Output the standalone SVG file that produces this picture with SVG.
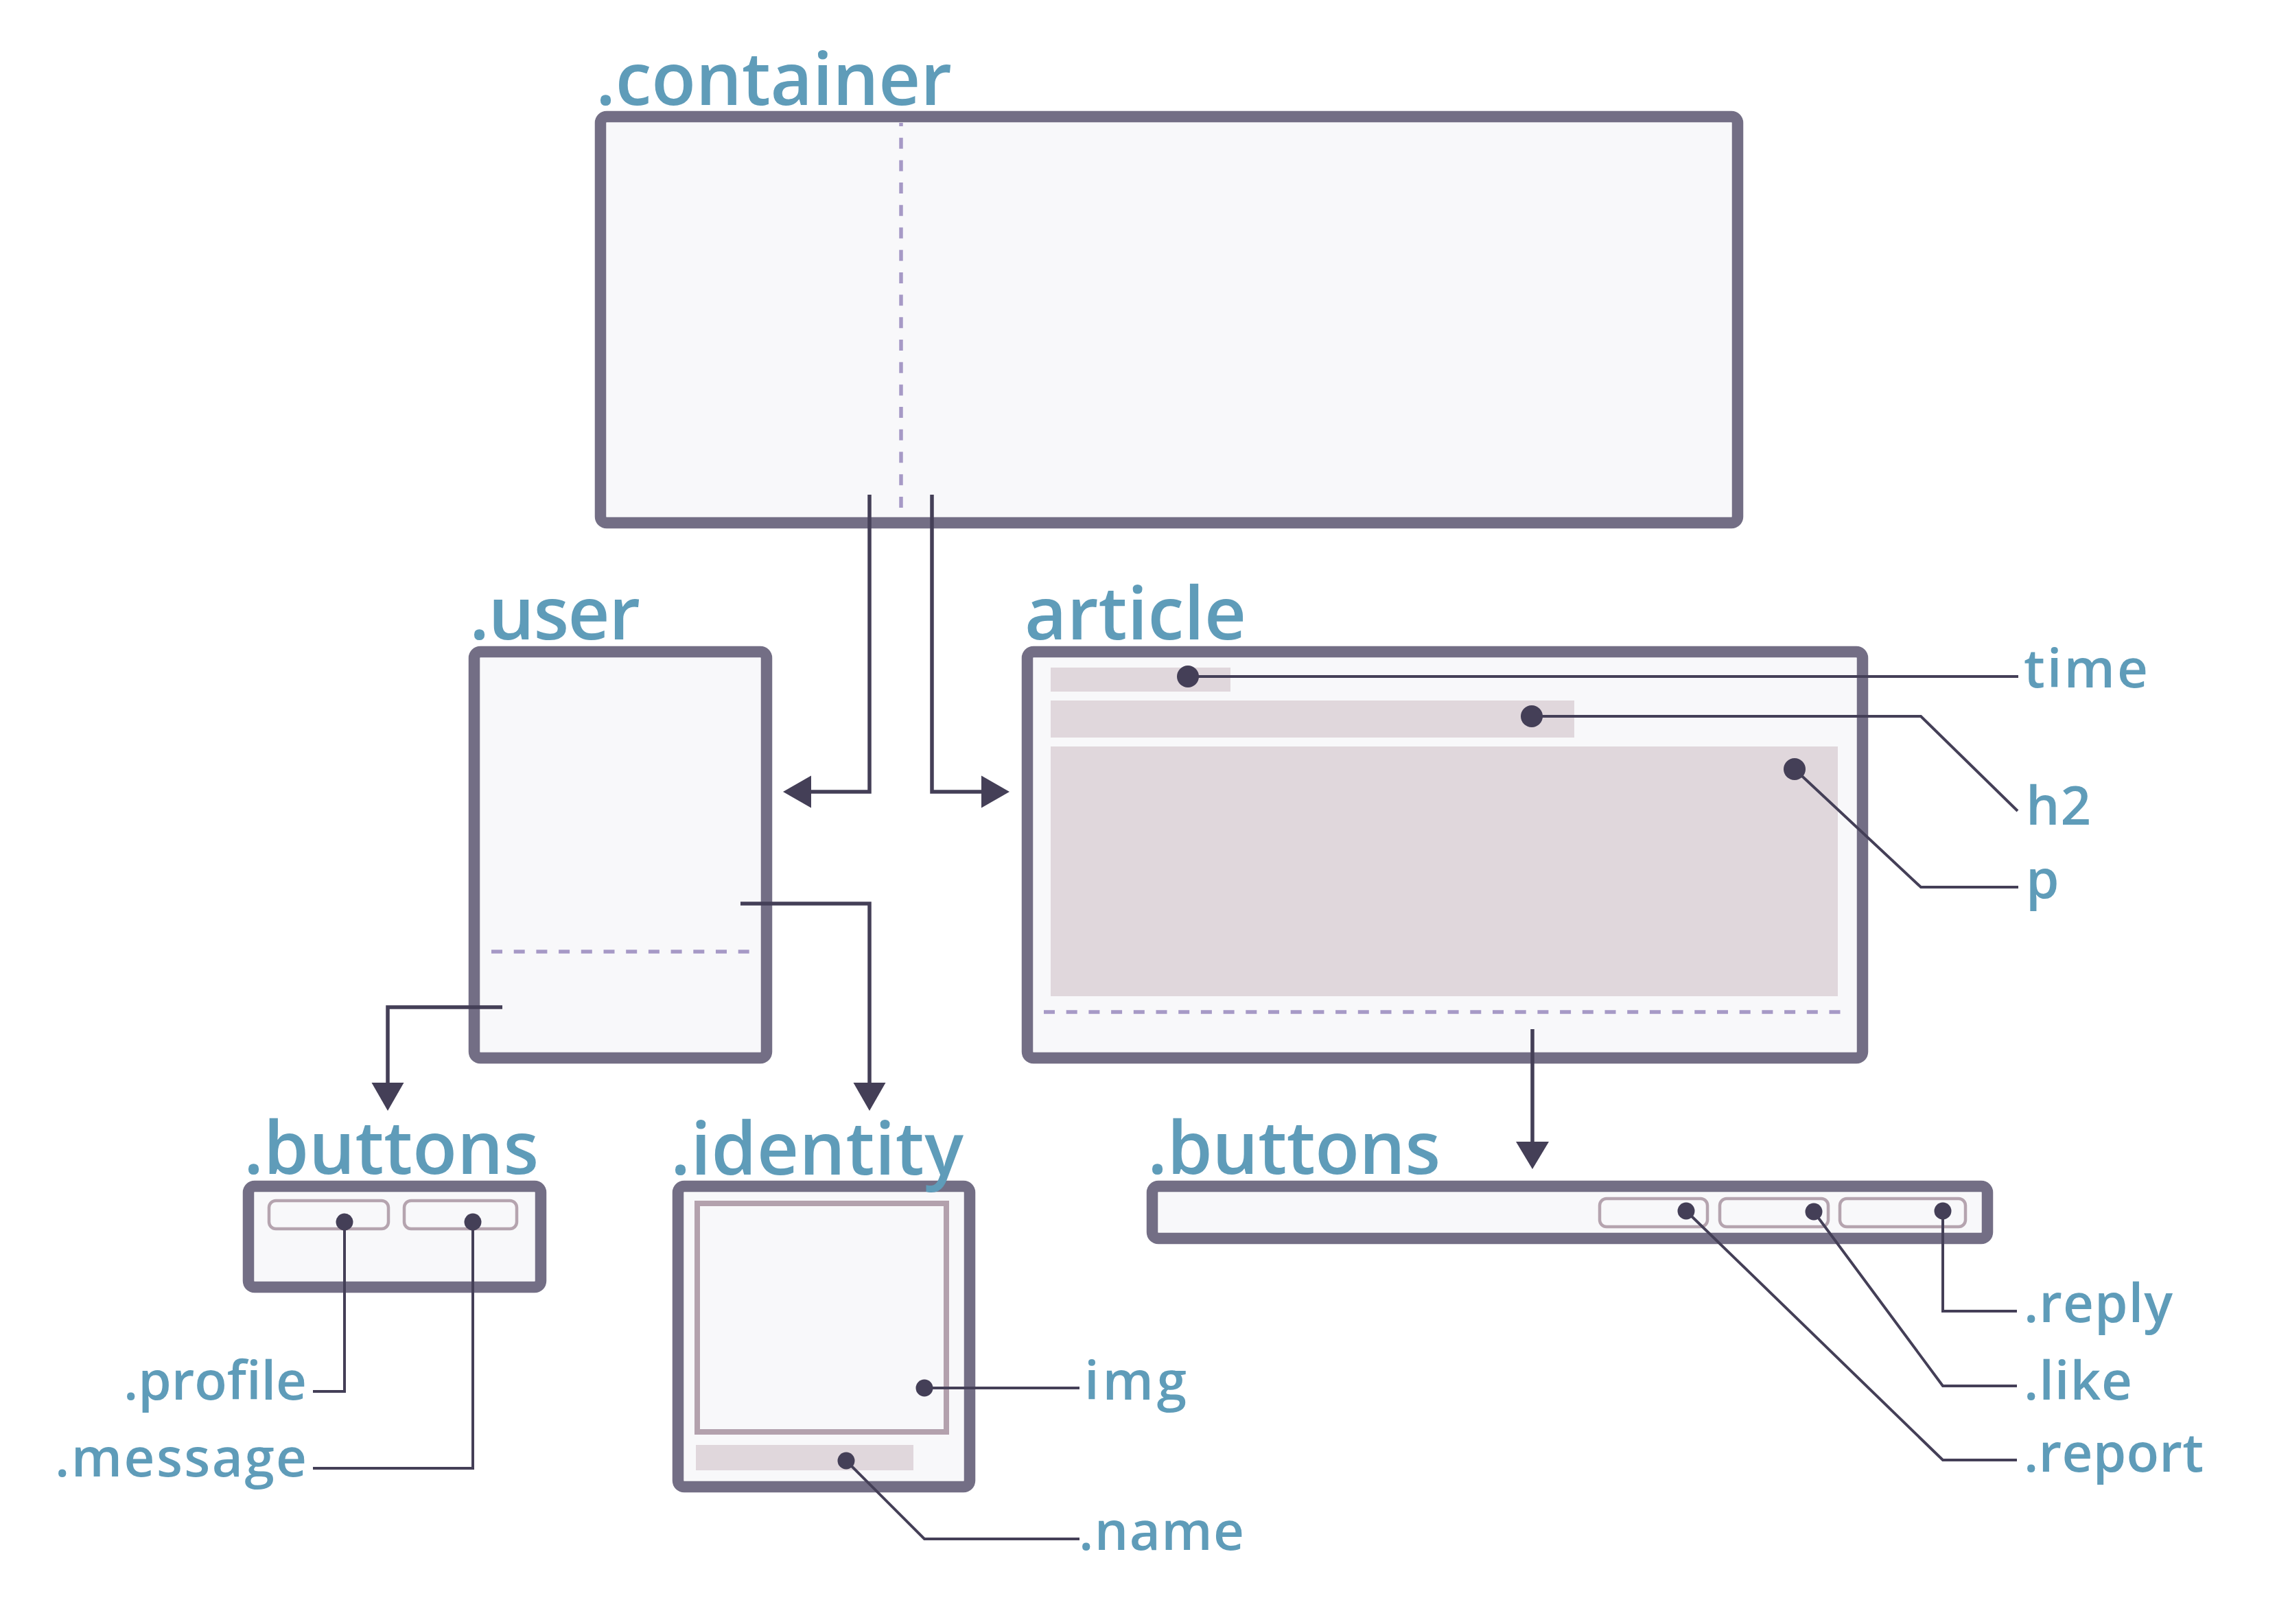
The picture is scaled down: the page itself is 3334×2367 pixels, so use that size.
<svg xmlns="http://www.w3.org/2000/svg" width="3334" height="2367" viewBox="0 0 3334 2367">
<style>
.box{fill:#f8f8fa;stroke:#736e85;stroke-width:16.5}
.bar{fill:#e0d7dc}
.btn{fill:#f8f8fa;stroke:#b5a4af;stroke-width:4.5}
.dash{fill:none;stroke:#a699c6;stroke-width:5.5;stroke-dasharray:16 16.7}
.conn{fill:none;stroke:#443f57;stroke-width:5.5}
.lead{fill:none;stroke:#443f57;stroke-width:4}
.dot{fill:#443f57}
.head{fill:#443f57}
.big{font-family:"Open Sans","Liberation Sans",sans-serif;font-size:106px;font-weight:600;fill:#5f9cb9}
.sm{font-family:"Open Sans","Liberation Sans",sans-serif;font-size:78px;font-weight:600;fill:#5f9cb9}
</style>
<rect width="3334" height="2367" fill="#ffffff"/>

<g id="container">
<rect class="box" x="875" y="170" width="1657" height="592" rx="9"/>
<line class="dash" x1="1313" y1="179" x2="1313" y2="741" stroke-dashoffset="11"/>
<text class="big" x="868" y="153" textLength="519" lengthAdjust="spacing">.container</text>
</g>

<g id="user">
<rect class="box" x="691" y="950" width="426" height="592" rx="9"/>
<line class="dash" x1="716" y1="1387" x2="1108" y2="1387"/>
<text class="big" x="684" y="932" textLength="249" lengthAdjust="spacing">.user</text>
</g>

<g id="article">
<rect class="box" x="1497" y="950" width="1217" height="592" rx="9"/>
<rect class="bar" x="1531" y="973" width="262" height="35"/>
<rect class="bar" x="1531" y="1021" width="763" height="54"/>
<rect class="bar" x="1531" y="1088" width="1147" height="364"/>
<line class="dash" x1="1521" y1="1475" x2="2692" y2="1475"/>
<text class="big" x="1493" y="932" textLength="323" lengthAdjust="spacing">article</text>
</g>

<g id="buttons-user">
<rect class="box" x="362" y="1729" width="426" height="147" rx="9"/>
<rect class="btn" x="392" y="1750" width="174" height="41" rx="10"/>
<rect class="btn" x="589" y="1750" width="164" height="41" rx="10"/>
<text class="big" x="355" y="1711" textLength="430" lengthAdjust="spacing">.buttons</text>
</g>

<g id="identity">
<rect class="box" x="988" y="1729" width="425" height="438" rx="9"/>
<rect x="1016" y="1754" width="363" height="333" fill="#f8f8fa" stroke="#b3a1ad" stroke-width="8"/>
<rect class="bar" x="1014" y="2106" width="317" height="37"/>
<text class="big" x="977" y="1712" textLength="427" lengthAdjust="spacing">.identity</text>
</g>

<g id="buttons-article">
<rect class="box" x="1679" y="1729" width="1217" height="76" rx="9"/>
<rect class="btn" x="2331" y="1747" width="157" height="41" rx="10"/>
<rect class="btn" x="2506" y="1747" width="158" height="41" rx="10"/>
<rect class="btn" x="2681" y="1747" width="183" height="41" rx="10"/>
<text class="big" x="1672" y="1711" textLength="427" lengthAdjust="spacing">.buttons</text>
</g>

<g id="connectors">
<path class="conn" d="M1267,721 V1154 H1180"/>
<polygon class="head" points="1141,1154 1182,1130.5 1182,1177.5"/>
<path class="conn" d="M1358,721 V1154 H1432"/>
<polygon class="head" points="1471,1154 1430,1130.5 1430,1177.5"/>
<path class="conn" d="M732,1468 H565 V1580"/>
<polygon class="head" points="565,1619 541.5,1578 588.5,1578"/>
<path class="conn" d="M1079,1317 H1267 V1580"/>
<polygon class="head" points="1267,1619 1243.5,1578 1290.5,1578"/>
<path class="conn" d="M2233,1500 V1666"/>
<polygon class="head" points="2233,1704 2209,1664 2257,1664"/>
</g>

<g id="leaders">
<path class="lead" d="M1731,986 H2941"/>
<circle class="dot" cx="1731" cy="986" r="16"/>
<path class="lead" d="M2232,1044 H2799 L2940,1182"/>
<circle class="dot" cx="2232" cy="1044" r="16"/>
<path class="lead" d="M2615,1121 L2799,1293 H2941"/>
<circle class="dot" cx="2615" cy="1121" r="16"/>
<path class="lead" d="M1347,2023 H1573"/>
<circle class="dot" cx="1347" cy="2023" r="12.5"/>
<path class="lead" d="M1233,2129 L1347,2243 H1573"/>
<circle class="dot" cx="1233" cy="2129" r="12.5"/>
<path class="lead" d="M502,1781 V2028 H456"/>
<circle class="dot" cx="502" cy="1781" r="12.5"/>
<path class="lead" d="M689,1781 V2140 H456"/>
<circle class="dot" cx="689" cy="1781" r="12.5"/>
<path class="lead" d="M2831,1765 V1911 H2939"/>
<circle class="dot" cx="2831" cy="1765" r="12.5"/>
<path class="lead" d="M2643,1766 L2831,2020 H2939"/>
<circle class="dot" cx="2643" cy="1766" r="12.5"/>
<path class="lead" d="M2457,1765 L2831,2128 H2939"/>
<circle class="dot" cx="2457" cy="1765" r="12.5"/>
</g>

<g id="labels">
<text class="sm" x="2949" y="1002" textLength="181" lengthAdjust="spacing">time</text>
<text class="sm" x="2952" y="1202" textLength="95" lengthAdjust="spacing">h2</text>
<text class="sm" x="2952" y="1309">p</text>
<text class="sm" x="2949" y="1927" textLength="217" lengthAdjust="spacing">.reply</text>
<text class="sm" x="2949" y="2040" textLength="158" lengthAdjust="spacing">.like</text>
<text class="sm" x="2949" y="2145" textLength="262" lengthAdjust="spacing">.report</text>
<text class="sm" x="1580" y="2040" textLength="149" lengthAdjust="spacing">img</text>
<text class="sm" x="1572" y="2259" textLength="241" lengthAdjust="spacing">.name</text>
<text class="sm" x="447" y="2040" text-anchor="end" textLength="267" lengthAdjust="spacing">.profile</text>
<text class="sm" x="447" y="2152" text-anchor="end" textLength="367" lengthAdjust="spacing">.message</text>
</g>
</svg>
